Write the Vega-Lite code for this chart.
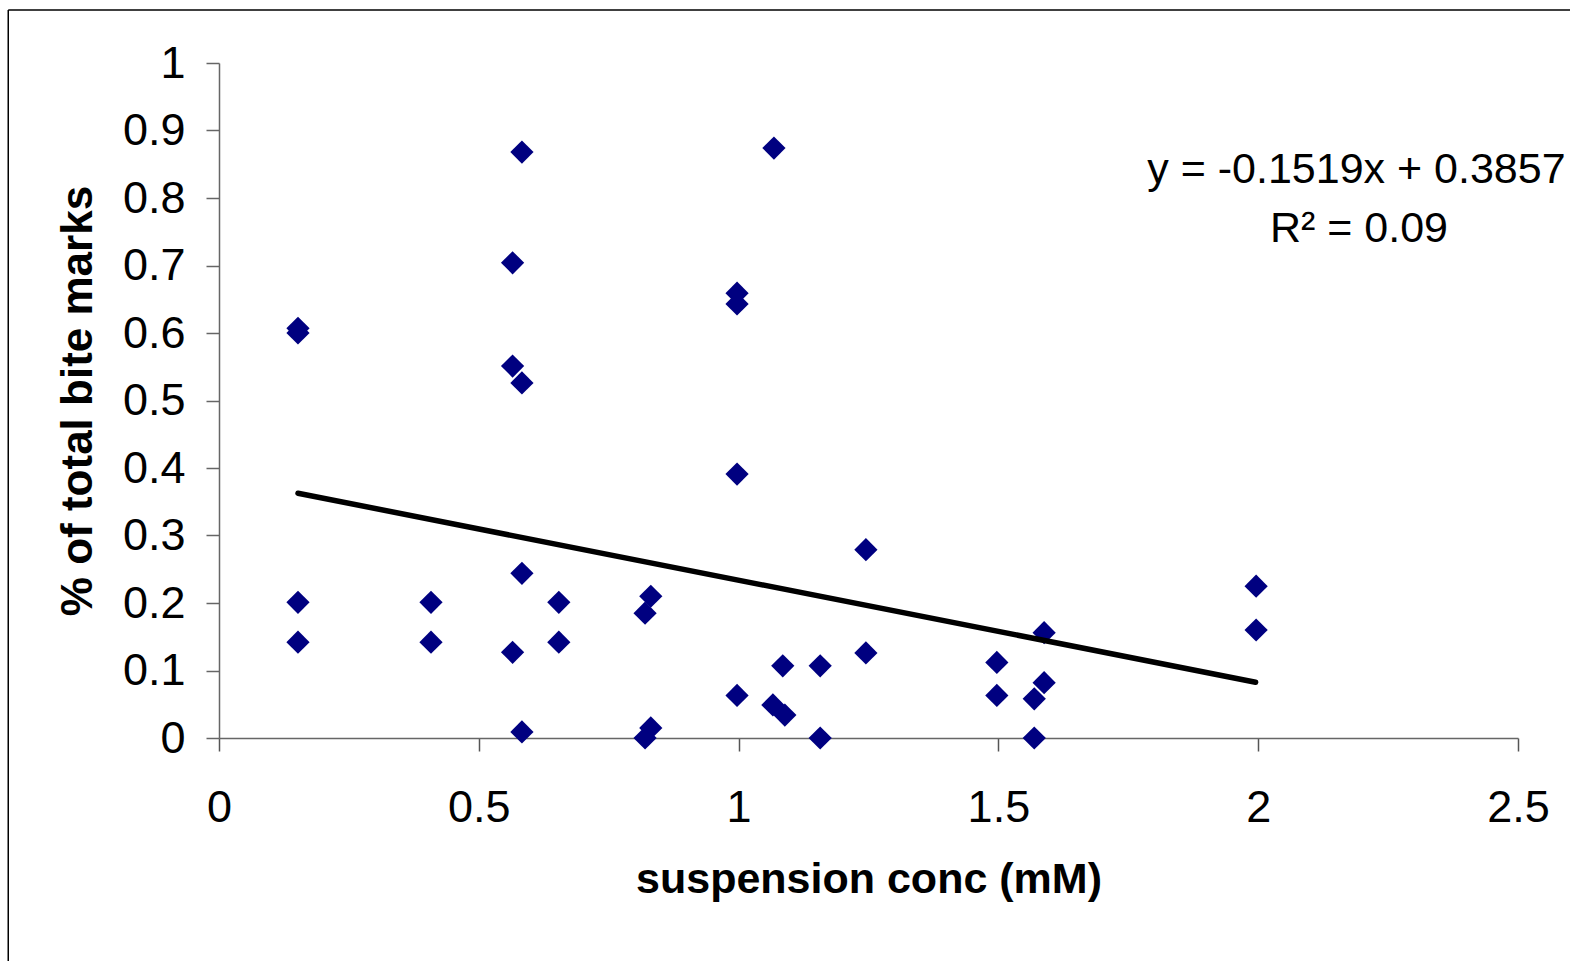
{
  "$schema": "https://vega.github.io/schema/vega-lite/v6.json",
  "autosize": "none",
  "width": 1299,
  "height": 675,
  "padding": {"left": 219, "top": 63, "right": 52, "bottom": 223},
  "background": "white",
  "config": {"view": {"stroke": null}, "font": "Liberation Sans"},
  "datasets": {
    "points": [
      {"conc": 0.152, "frac": 0.607}, {"conc": 0.152, "frac": 0.600}, {"conc": 0.152, "frac": 0.201}, {"conc": 0.152, "frac": 0.142},
      {"conc": 0.408, "frac": 0.201}, {"conc": 0.408, "frac": 0.142},
      {"conc": 0.583, "frac": 0.868}, {"conc": 0.565, "frac": 0.704}, {"conc": 0.565, "frac": 0.551}, {"conc": 0.583, "frac": 0.526},
      {"conc": 0.583, "frac": 0.244}, {"conc": 0.565, "frac": 0.127}, {"conc": 0.583, "frac": 0.009},
      {"conc": 0.654, "frac": 0.201}, {"conc": 0.654, "frac": 0.142},
      {"conc": 0.820, "frac": 0.185}, {"conc": 0.831, "frac": 0.210}, {"conc": 0.820, "frac": 0.0}, {"conc": 0.831, "frac": 0.015},
      {"conc": 1.068, "frac": 0.874}, {"conc": 0.997, "frac": 0.659}, {"conc": 0.997, "frac": 0.643}, {"conc": 0.997, "frac": 0.391},
      {"conc": 0.997, "frac": 0.063}, {"conc": 1.066, "frac": 0.049}, {"conc": 1.089, "frac": 0.034}, {"conc": 1.085, "frac": 0.107},
      {"conc": 1.157, "frac": 0.107}, {"conc": 1.157, "frac": 0.0},
      {"conc": 1.245, "frac": 0.279}, {"conc": 1.245, "frac": 0.126},
      {"conc": 1.497, "frac": 0.112}, {"conc": 1.497, "frac": 0.063},
      {"conc": 1.588, "frac": 0.156}, {"conc": 1.588, "frac": 0.082}, {"conc": 1.569, "frac": 0.058}, {"conc": 1.569, "frac": 0.0},
      {"conc": 1.996, "frac": 0.160}, {"conc": 1.996, "frac": 0.225}
    ],
    "trend": [
      {"conc": 0.152, "frac": 0.3626},
      {"conc": 1.995, "frac": 0.0827}
    ]
  },
  "layer": [
    {
      "data": {"name": "points"},
      "mark": {"type": "point", "shape": "diamond", "filled": true, "size": 540, "color": "#000080", "opacity": 1, "strokeWidth": 0},
      "encoding": {
        "x": {
          "field": "conc", "type": "quantitative",
          "scale": {"domain": [0, 2.5], "nice": false, "zero": true},
          "axis": {
            "title": "suspension conc (mM)", "values": [0, 0.5, 1, 1.5, 2, 2.5], "format": "~g",
            "grid": false, "domainColor": "#666666", "domainWidth": 1.5, "tickColor": "#555555", "tickWidth": 1.5, "tickSize": 13,
            "labelFont": "Liberation Sans", "labelFontSize": 45, "labelColor": "#000000", "labelPadding": 34, "labelFlush": false, "labelOverlap": false,
            "titleFont": "Liberation Sans", "titleFontSize": 43, "titleFontWeight": "bold", "titleColor": "#000000",
            "titleY": 120, "titleBaseline": "top"
          }
        },
        "y": {
          "field": "frac", "type": "quantitative",
          "scale": {"domain": [0, 1], "nice": false, "zero": true},
          "axis": {
            "title": "% of total bite marks", "values": [0, 0.1, 0.2, 0.3, 0.4, 0.5, 0.6, 0.7, 0.8, 0.9, 1], "format": "~g",
            "grid": false, "domainColor": "#666666", "domainWidth": 1.5, "tickColor": "#666666", "tickWidth": 1.5, "tickSize": 13,
            "labelFont": "Liberation Sans", "labelFontSize": 45, "labelColor": "#000000", "labelPadding": 21, "labelFlush": false, "labelOverlap": false,
            "titleFont": "Liberation Sans", "titleFontSize": 44, "titleFontWeight": "bold", "titleColor": "#000000",
            "titleX": -119, "titleBaseline": "bottom"
          }
        }
      }
    },
    {
      "data": {"name": "trend"},
      "mark": {"type": "line", "color": "#000000", "strokeWidth": 5.5, "strokeCap": "round"},
      "encoding": {
        "x": {"field": "conc", "type": "quantitative"},
        "y": {"field": "frac", "type": "quantitative"}
      }
    },
    {
      "data": {"values": [{}]},
      "mark": {"type": "text", "text": "y = -0.1519x + 0.3857", "font": "Liberation Sans", "fontSize": 43, "color": "#000000", "align": "center", "baseline": "alphabetic"},
      "encoding": {
        "x": {"datum": 2.189, "type": "quantitative"},
        "y": {"datum": 0.822, "type": "quantitative"}
      }
    },
    {
      "data": {"values": [{}]},
      "mark": {"type": "text", "text": "R² = 0.09", "font": "Liberation Sans", "fontSize": 43, "color": "#000000", "align": "center", "baseline": "alphabetic"},
      "encoding": {
        "x": {"datum": 2.194, "type": "quantitative"},
        "y": {"datum": 0.735, "type": "quantitative"}
      }
    },
    {
      "data": {"values": [{}]},
      "mark": {"type": "rule", "color": "#000000", "strokeWidth": 1.5},
      "encoding": {
        "x": {"datum": -0.4056, "type": "quantitative"},
        "y": {"datum": 1.0785, "type": "quantitative"},
        "y2": {"datum": -0.34}
      }
    },
    {
      "data": {"values": [{}]},
      "mark": {"type": "rule", "color": "#000000", "strokeWidth": 1.5},
      "encoding": {
        "x": {"datum": -0.4056, "type": "quantitative"},
        "x2": {"datum": 2.62},
        "y": {"datum": 1.0785, "type": "quantitative"}
      }
    }
  ]
}
